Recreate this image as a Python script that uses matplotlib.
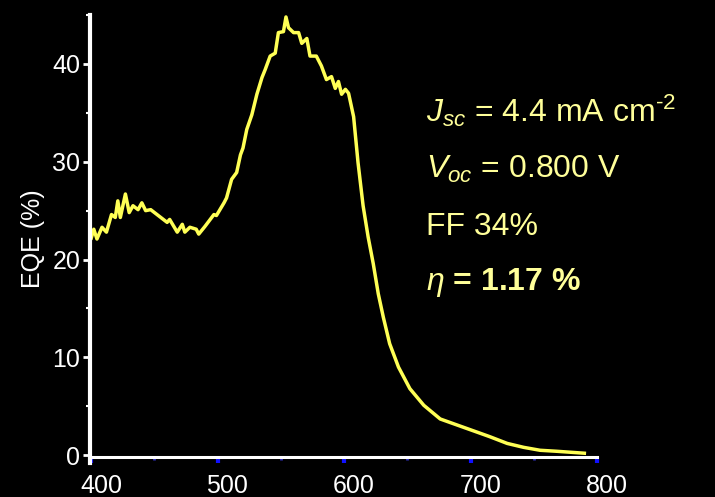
import matplotlib
matplotlib.use('Agg')
import matplotlib.pyplot as plt
from matplotlib.ticker import MultipleLocator
from matplotlib.transforms import ScaledTranslation

plt.rcParams.update({
    'font.family': ['Liberation Sans', 'DejaVu Sans'],
    'mathtext.fontset': 'custom',
    'mathtext.rm': 'Liberation Sans',
    'mathtext.it': 'Liberation Sans:italic',
    'mathtext.bf': 'Liberation Sans:bold',
})

LINE = '#FFFF55'
TXT = '#FFFF99'

# EQE spectrum
wavelength = [400, 402, 404.5, 408.5, 412, 416, 419, 421, 423, 427, 430, 433, 437, 440, 443, 447,
              453, 460, 462, 468, 472, 474, 478, 483, 485, 490, 497, 499, 505, 507, 511, 515,
              518, 520, 523, 527, 531, 535, 537.5, 541.5, 545.5, 548, 552, 554, 556, 560, 564,
              566.5, 570.5, 573, 578, 582, 586, 590, 593, 595.5, 598, 601, 603.5, 607.5, 611,
              615, 619, 623, 627, 631, 636, 643, 652, 663, 676, 689, 702, 715, 729, 742, 755,
              768, 790]
eqe = [22.2, 23.1, 22.1, 23.3, 22.8, 24.6, 24.3, 26.0, 24.3, 26.7, 24.8, 25.5, 25.1, 25.8, 25.0, 25.1,
       24.5, 23.8, 24.1, 22.8, 23.6, 22.8, 23.3, 23.1, 22.6, 23.4, 24.6, 24.5, 25.8, 26.3, 28.2, 28.9,
       30.7, 31.4, 33.3, 34.8, 36.9, 38.6, 39.4, 40.8, 41.1, 43.2, 43.3, 44.8, 43.7, 43.2, 43.2,
       42.1, 42.6, 40.8, 40.8, 39.8, 38.4, 38.7, 37.5, 38.2, 36.9, 37.4, 37.0, 34.6, 29.9,
       25.5, 22.3, 19.6, 16.5, 14.1, 11.4, 9.0, 6.8, 5.1, 3.7, 3.1, 2.5, 1.9, 1.2, 0.8, 0.5,
       0.4, 0.2]

xticks = [400, 500, 600, 700, 800]
yticks = [0, 10, 20, 30, 40]

summary = [r'$J_{sc}$ = 4.4 mA cm$^{\text{-2}}$',
           r'$V_{oc}$ = 0.800 V',
           'FF 34%',
           r'$\eta$ = 1.17 %']

fig = plt.figure(figsize=(7.15, 4.97), dpi=100, facecolor='black')
ax = fig.add_axes([90 / 715, 1 - 463 / 497, 507 / 715, 448 / 497])
ax.set_facecolor('black')

ax.plot(wavelength, eqe, color=LINE, lw=2.5, solid_joinstyle='round', zorder=3)

ax.set_xlim(399, 800)
ax.set_ylim(-0.8, 45)
ax.set_xticks(xticks)
ax.set_yticks(yticks)
ax.xaxis.set_minor_locator(MultipleLocator(50))
ax.yaxis.set_minor_locator(MultipleLocator(5))

for s in ['top', 'right']:
    ax.spines[s].set_visible(False)
ax.spines['left'].set_color('white')
ax.spines['left'].set_linewidth(3)
ax.spines['bottom'].set_color('white')
ax.spines['bottom'].set_linewidth(2.2)
ax.spines['bottom'].set_position(('data', -0.2))
ax.spines['left'].set_zorder(4)

ax.tick_params(axis='y', which='major', colors='white', direction='out', length=5, width=2,
               labelsize=18, pad=2)
ax.tick_params(axis='y', which='minor', colors='white', direction='out', length=3, width=1.5)
ax.tick_params(axis='x', which='major', color='#1010FF', labelcolor='white', direction='out',
               length=4, width=3, labelsize=18, pad=8)
ax.tick_params(axis='x', which='minor', color='#3030C0', direction='out', length=2, width=2)

# odd tick colours at the right end of the x axis, as in the original
ax.xaxis.get_major_ticks()[-1].tick1line.set_color('#FFFF55')
minor = ax.xaxis.get_minor_ticks()
minor[len(minor) - 2].tick1line.set_color('white')

# tick labels on the x axis sit a little right of their ticks
shift = ScaledTranslation(7 / 72, 0, fig.dpi_scale_trans)
for lab in ax.get_xticklabels():
    lab.set_transform(lab.get_transform() + shift)

ax.set_ylabel('EQE (%)', color='white', fontsize=18)
ax.yaxis.set_label_coords(-0.088, 0.5)

ys = [122, 178, 235, 290]
for i, (t, y) in enumerate(zip(summary, ys)):
    fig.text(426 / 715, 1 - y / 497, t, color=TXT, fontsize=23, va='baseline', ha='left',
             fontweight='bold' if i == 3 else 'normal')

fig.savefig('out.png', dpi=100, facecolor='black')
